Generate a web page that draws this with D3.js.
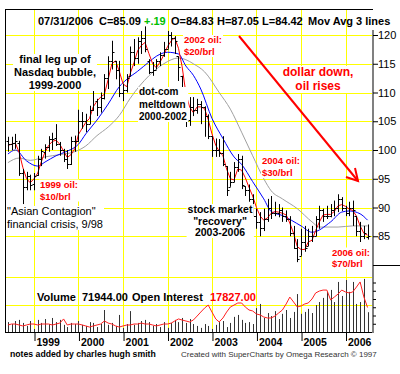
<!DOCTYPE html>
<html>
<head>
<meta charset="utf-8">
<title>Dollar index 1998-2006</title>
<script src="https://d3js.org/d3.v7.min.js"></script>
<style>
	body { margin: 0; background: #fff; }
	svg { display: block; font-family: "Liberation Sans", Arial, sans-serif; }
</style>
</head>
<body>
<svg id="chart" width="400" height="374"></svg>
<script>
	// monthly OHLC, Jun 1998 .. Jul 2006
	var opens = [
		101.5,101.0,101.2,101.3,96.0,93.6,95.4,94.1,95.6,98.5,
		99.7,100.5,102.0,102.1,101.0,100.0,98.4,97.6,101.5,101.6,
		105.0,105.0,104.6,107.0,108.5,107.5,109.0,112.5,115.5,115.5,
		114.0,110.0,110.5,112.9,117.0,116.0,119.0,119.5,115.5,113.5,
		114.0,115.5,116.5,117.6,120.0,119.5,116.3,112.9,108.9,105.2,
		107.5,107.0,108.0,107.5,106.0,102.4,100.0,100.0,99.5,97.2,
		93.6,94.5,97.0,98.5,93.7,93.0,91.5,88.5,87.5,86.5,
		88.0,90.0,89.0,89.0,89.5,88.5,88.0,85.5,83.0,81.6,
		84.0,83.3,85.0,85.0,88.0,89.5,88.5,88.5,89.5,90.0,
		91.5,90.0,89.0,90.0,88.5,86.0,85.0,84.83];
	var highs = [
		102.3,102.3,102.8,101.6,96.7,96.2,95.7,96.0,99.0,100.2,
		101.0,102.4,103.0,104.5,101.4,100.2,100.0,102.3,102.5,107.0,
		106.6,106.3,107.7,113.2,108.9,110.0,113.2,116.3,119.0,115.5,
		115.5,111.5,113.2,118.0,119.3,119.6,120.7,121.5,115.8,115.3,
		115.8,117.0,118.8,120.7,120.5,119.8,116.3,112.9,108.9,109.2,
		109.2,108.9,108.5,107.6,106.2,102.4,102.0,101.9,102.4,97.2,
		96.2,97.9,99.3,99.0,93.7,94.0,92.3,89.8,89.2,89.8,
		91.5,92.0,91.0,90.6,90.0,89.5,88.5,86.8,84.5,86.3,
		86.8,86.3,86.8,88.5,90.3,89.8,90.3,90.6,91.2,92.3,
		91.8,90.3,91.0,91.2,88.5,87.5,86.8,87.05];
	var lows = [
		99.7,100.0,100.2,95.5,90.6,93.0,93.0,93.0,95.5,97.2,
		98.5,99.7,100.0,100.7,99.0,97.9,96.7,97.4,99.7,101.4,
		103.7,103.1,104.5,106.8,105.9,106.5,108.8,110.6,114.0,112.3,
		109.2,108.5,110.0,112.9,114.6,115.0,116.7,117.0,113.2,112.9,
		114.0,114.6,116.2,117.6,118.0,116.7,112.0,108.3,104.0,104.2,
		105.9,106.3,104.5,102.3,101.9,98.8,98.8,98.8,97.2,92.0,
		93.6,94.4,96.2,93.2,92.0,91.0,88.5,86.3,85.0,85.9,
		87.5,88.0,88.5,88.3,87.5,87.5,85.0,82.8,80.5,81.6,
		82.3,83.3,84.0,85.0,86.3,87.5,88.0,88.3,88.5,89.2,
		89.4,88.5,88.5,86.8,85.0,84.0,84.5,84.42];
	var closes = [
		101.0,101.2,101.5,96.0,93.5,95.5,94.0,95.5,98.5,99.8,
		100.5,102.0,102.0,101.0,100.0,98.5,97.5,101.5,101.5,105.0,
		105.0,104.5,107.0,111.0,107.5,109.0,112.5,115.5,117.0,114.0,
		110.0,110.5,112.5,117.0,116.0,119.0,119.5,117.5,113.5,114.0,
		115.5,116.5,117.5,120.0,119.5,119.0,114.5,110.0,105.0,107.5,
		107.0,108.0,107.5,106.0,102.5,100.0,100.0,99.5,97.5,93.0,
		94.5,97.0,98.5,94.0,93.0,91.5,88.5,87.5,86.5,88.0,
		90.0,89.0,89.0,89.5,88.5,88.0,85.5,83.0,81.0,84.0,
		83.0,85.0,85.0,88.0,89.5,88.5,88.5,89.5,90.0,91.5,
		90.0,89.0,90.0,89.5,86.0,85.0,85.5,85.09];

	// moving averages
	var maRed = [
		100.8,101.0,101.2,99.6,97.0,95.0,94.3,95.0,96.0,97.9,
		99.6,100.8,101.5,101.7,101.0,99.8,98.7,99.2,100.2,102.7,
		103.8,104.8,105.5,107.5,108.5,109.2,109.7,112.3,115.0,115.5,
		113.7,111.5,111.0,113.3,115.2,117.3,118.2,118.7,116.8,115.0,
		114.3,115.3,116.5,118.0,119.0,119.5,117.7,114.5,109.8,107.5,
		106.5,107.5,107.5,107.2,105.3,102.8,100.8,99.8,99.0,96.7,
		95.0,94.8,96.7,96.5,95.2,93.5,92.0,90.0,88.5,87.8,
		88.2,89.0,89.3,89.2,89.0,88.7,87.3,85.5,83.2,82.7,
		82.7,84.0,84.3,86.0,87.5,88.7,88.8,88.8,89.3,90.3,
		90.5,90.2,89.7,89.5,88.5,86.8,85.5,85.2];
	var maBlueAt = [0,2,5,8,10,13,16,19,21,24,27,30,32,35,38,40,43,46,48,50,52,55,58,61,63,66,69,71,74,79,82,87,90,92,95,97];
	var maBlue = [99.3,100.0,98.1,97.2,97.9,99.0,99.8,101.0,102.8,105.2,108.0,111.0,112.3,113.7,115.3,116.3,117.0,116.7,114.6,113.0,110.6,105.5,102.0,98.8,97.5,94.5,91.5,89.3,88.6,86.8,85.7,87.5,89.2,89.4,88.9,87.8];
	var maGrayAt = [0,3,6,10,14,18,21,24,27,30,33,38,42,46,48,50,53,57,60,63,66,69,71,74,78,82,84,89,93,97];
	var maGray = [97.8,98.6,98.2,98.8,99.2,99.7,100.7,102.5,104.0,106.0,109.0,112.9,115.0,116.0,115.7,115.0,113.6,110.0,107.1,103.1,99.0,95.0,92.9,91.5,89.8,87.5,86.6,86.6,86.8,86.8];

	// volume and open interest, thousands
	var volume = [
		36,29,40,44,33,22,40,11,44,33,
		47,29,51,36,44,26,18,33,29,40,
		26,22,36,33,18,29,80,26,33,22,
		62,15,29,76,26,33,40,44,36,22,
		29,18,36,15,33,44,36,51,33,47,
		29,22,15,29,22,11,26,36,40,18,
		33,55,62,44,33,36,29,87,102,51,
		69,58,76,47,66,80,51,73,138,66,
		73,84,69,98,109,124,146,153,109,182,
		131,189,146,182,102,109,193,71.944];
	var openInt = [
		5.1,5.8,5.8,5.1,4.4,5.1,5.8,5.8,5.1,5.8,
		5.8,5.8,5.1,5.8,6.5,9.5,5.1,5.8,5.8,5.8,
		5.1,4.4,3.6,4.4,5.1,5.8,8.0,6.5,5.8,4.4,
		3.6,4.4,5.1,5.1,5.8,5.8,6.5,5.8,5.8,5.1,
		4.4,5.1,5.8,5.8,6.5,8.0,9.5,8.7,8.0,7.3,
		8.7,11.6,14.5,17.4,19.6,14.5,9.5,7.3,10.2,14.5,
		18.2,19.6,21.1,21.1,18.2,16.0,15.3,13.1,12.4,10.9,
		10.2,10.2,11.6,13.8,16.0,20.4,25.4,21.8,18.2,18.9,
		20.4,21.1,24.0,28.4,29.8,30.5,30.5,23.3,25.4,27.6,
		30.5,29.1,28.4,29.1,32.7,36.4,25.4,17.827];

	var years = [1999, 2000, 2001, 2002, 2003, 2004, 2005, 2006];
	var priceTicks = [85, 90, 95, 100, 105, 110, 115, 120];

	var months = d3.utcMonth.range(new Date(Date.UTC(1998, 5, 1)), new Date(Date.UTC(2006, 7, 1)));
	var yearDates = years.map(function(yr) { return new Date(Date.UTC(yr, 0, 1)); });

	var x = d3.scaleUtc()
		.domain([yearDates[0], yearDates[yearDates.length - 1]])
		.range([34, 345.5]);
	var y = d3.scaleLinear().domain([80, 120]).range([265, 35]);
	var yv = d3.scaleLinear().domain([0, 200]).range([332, 277]);
	var yo = d3.scaleLinear().domain([0, 40]).range([332, 277]);

	var svg = d3.select('#chart');
	var LEFT = 5, RIGHT = 373, TOP = 9, BOTTOM = 332;
	var YELLOW = '#ffff00';

	// grid
	var grid = svg.append('g').attr('stroke', YELLOW).attr('stroke-width', 1);
	priceTicks.forEach(function(p) {
		grid.append('line').attr('x1', LEFT).attr('x2', RIGHT)
			.attr('y1', Math.round(y(p)) + 0.5).attr('y2', Math.round(y(p)) + 0.5);
	});
	[100, 200].forEach(function(v) {
		grid.append('line').attr('x1', LEFT).attr('x2', RIGHT)
			.attr('y1', Math.round(yv(v)) + 0.5).attr('y2', Math.round(yv(v)) + 0.5);
	});
	yearDates.forEach(function(d) {
		grid.append('line').attr('y1', TOP).attr('y2', BOTTOM)
			.attr('x1', Math.round(x(d)) + 0.5).attr('x2', Math.round(x(d)) + 0.5);
	});

	// volume bars
	svg.append('g').selectAll('line').data(volume).enter().append('line')
		.attr('x1', function(d, i) { return Math.round(x(months[i])) + 0.5; })
		.attr('x2', function(d, i) { return Math.round(x(months[i])) + 0.5; })
		.attr('y1', yv(0))
		.attr('y2', function(d) { return yv(d); })
		.attr('stroke', '#333')
		.attr('stroke-width', 1);

	// open interest
	svg.append('path')
		.attr('d', d3.line()
			.x(function(d, i) { return x(months[i]); })
			.y(function(d) { return yo(d); })(openInt))
		.attr('fill', 'none')
		.attr('stroke', '#ff2020')
		.attr('stroke-width', 1);

	// moving averages
	var maLine = function(idx, vals) {
		return d3.line().curve(d3.curveMonotoneX)
			.x(function(d, k) { return x(months[idx[k]]); })
			.y(function(d) { return y(d); })(vals);
	};
	svg.append('path').attr('d', maLine(maGrayAt, maGray))
		.attr('fill', 'none').attr('stroke', '#a0a0a0').attr('stroke-width', 1);
	svg.append('path').attr('d', maLine(maBlueAt, maBlue))
		.attr('fill', 'none').attr('stroke', '#0000ff').attr('stroke-width', 1);
	svg.append('path')
		.attr('d', d3.line()
			.x(function(d, i) { return x(months[i]); })
			.y(function(d) { return y(d); })(maRed))
		.attr('fill', 'none').attr('stroke', '#ff0000').attr('stroke-width', 1);

	// OHLC bars
	var bars = svg.append('g').attr('stroke', '#000').attr('stroke-width', 1);
	months.forEach(function(m, i) {
		var cx = Math.round(x(m)) + 0.5;
		bars.append('line').attr('x1', cx).attr('x2', cx)
			.attr('y1', y(highs[i])).attr('y2', y(lows[i]));
		bars.append('line').attr('x1', cx - 2).attr('x2', cx)
			.attr('y1', Math.round(y(opens[i])) + 0.5).attr('y2', Math.round(y(opens[i])) + 0.5);
		bars.append('line').attr('x1', cx).attr('x2', cx + 2)
			.attr('y1', Math.round(y(closes[i])) + 0.5).attr('y2', Math.round(y(closes[i])) + 0.5);
	});

	// frame
	svg.append('line').attr('x1', LEFT + 0.5).attr('x2', LEFT + 0.5).attr('y1', TOP).attr('y2', BOTTOM)
		.attr('stroke', '#000');
	svg.append('line').attr('x1', LEFT).attr('x2', RIGHT).attr('y1', TOP + 0.5).attr('y2', TOP + 0.5)
		.attr('stroke', '#000');
	svg.append('line').attr('x1', LEFT).attr('x2', RIGHT).attr('y1', BOTTOM + 0.5).attr('y2', BOTTOM + 0.5)
		.attr('stroke', '#000');
	svg.append('line').attr('x1', RIGHT).attr('x2', RIGHT).attr('y1', 30).attr('y2', BOTTOM + 1)
		.attr('stroke', '#808080').attr('stroke-width', 2);
	svg.append('line').attr('x1', RIGHT).attr('x2', 400).attr('y1', Math.round(y(80)) + 0.5).attr('y2', Math.round(y(80)) + 0.5)
		.attr('stroke', '#000');

	// right price axis
	var ax = svg.append('g')
		.attr('transform', 'translate(' + RIGHT + ',0)')
		.call(d3.axisRight(y).tickValues(priceTicks).tickSize(5).tickPadding(0));
	ax.select('.domain').remove();
	ax.selectAll('text').attr('font-family', '"Liberation Sans", Arial, sans-serif').attr('font-size', 11).attr('fill', '#000');
	var axv = svg.append('g')
		.attr('transform', 'translate(' + RIGHT + ',0)')
		.call(d3.axisRight(yv).tickValues([30, 60, 90, 120, 150, 180]).tickSize(3).tickFormat(''));
	axv.select('.domain').remove();

	// bottom time axis
	var bx = svg.append('g')
		.attr('transform', 'translate(0,' + BOTTOM + ')')
		.call(d3.axisBottom(x).tickValues(yearDates).tickSize(9).tickFormat(d3.utcFormat('%Y')));
	bx.select('.domain').remove();
	bx.selectAll('.tick line').attr('transform', 'translate(0.5,0)');
	bx.selectAll('text')
		.attr('font-family', '"Liberation Sans", Arial, sans-serif')
		.attr('font-size', 10.5).attr('font-weight', 'bold').attr('fill', '#000')
		.attr('text-anchor', 'start').attr('x', 2).attr('y', 14).attr('dy', 0);

	// text helpers
	function label(txt, tx, ty, size, weight, color, anchor) {
		return svg.append('text').attr('x', tx).attr('y', ty)
			.attr('font-size', size).attr('font-weight', weight || 'bold')
			.attr('fill', color || '#000').attr('text-anchor', anchor || 'start')
			.text(txt);
	}
	function note(lines, tx, ty, lh, size, weight, color, anchor) {
		var g = svg.append('g');
		var t = g.append('text').attr('font-size', size).attr('font-weight', weight)
			.attr('fill', color).attr('text-anchor', anchor);
		lines.forEach(function(s, k) {
			t.append('tspan').attr('x', tx).attr('y', ty + k * lh).text(s);
		});
		var b = t.node().getBBox();
		g.insert('rect', 'text').attr('x', b.x - 1).attr('y', b.y + 1)
			.attr('width', b.width + 2).attr('height', b.height - 1).attr('fill', '#fff');
	}

	// header
	label('07/31/2006', 38, 25, 11);
	label('C=85.09', 99, 25, 11);
	label('+.19', 144, 25, 11, 'bold', '#00c000');
	label('O=84.83', 171, 25, 11);
	label('H=87.05', 217, 25, 11);
	label('L=84.42', 262, 25, 11);
	label('Mov Avg 3 lines', 308, 25, 11);

	// annotations
	note(['final leg up of', 'Nasdaq bubble,', '1999-2000'], 55, 63, 13, 11, 'bold', '#000', 'middle');
	note(['dot-com', 'meltdown', '2000-2002'], 139, 95, 12.5, 10, 'bold', '#000', 'start');
	note(['2002 oil:', '$20/brl'], 184, 43, 12, 9.5, 'bold', '#ff0000', 'start');
	note(['dollar down,', 'oil rises'], 318, 76, 14, 12, 'bold', '#ff0000', 'middle');
	note(['2004 oil:', '$30/brl'], 262, 164, 12, 9.5, 'bold', '#ff0000', 'start');
	note(['1999 oil:', '$10/brl'], 40, 187.5, 12, 9.5, 'bold', '#ff0000', 'start');
	note(['"Asian Contagion"', 'financial crisis, 9/98'], 7, 215, 13, 11, 'normal', '#000', 'start');
	note(['stock market', '"recovery"', '2003-2006'], 220, 213, 11.5, 10.5, 'bold', '#000', 'middle');
	note(['2006 oil:', '$70/brl'], 332, 255.5, 11.5, 9.5, 'bold', '#ff0000', 'start');

	// arrow
	var arrow = svg.append('g').attr('stroke', '#ff0000').attr('stroke-width', 2).attr('fill', 'none');
	arrow.append('line').attr('x1', 239).attr('y1', 36).attr('x2', 358).attr('y2', 181);
	arrow.append('polyline').attr('points', '346,177 358,181 355,168');

	// volume legend and footer
	label('Volume', 37, 301, 11);
	label('71944.00', 82, 301, 11);
	label('Open Interest', 132, 301, 11);
	label('17827.00', 210, 301, 11, 'bold', '#ff0000');
	label('notes added by charles hugh smith', 10, 357, 8.7);
	label('Created with SuperCharts by Omega Research \u00a9 1997', 181, 357, 8, 'normal', '#333');
</script>
</body>
</html>
